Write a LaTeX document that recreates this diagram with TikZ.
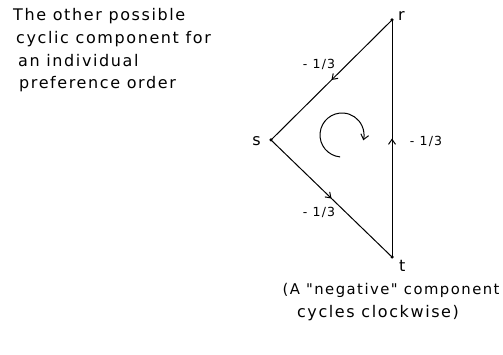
\documentclass[tikz,border=0pt]{standalone}
\usepackage{fontspec}
\setmainfont{DejaVu Sans}[LetterSpace=10]
\newfontfamily\capfont{DejaVu Sans}[LetterSpace=10]
\usetikzlibrary{arrows.meta,decorations.markings}
\begin{document}
\begin{tikzpicture}[x=1pt,y=1pt,
  txt/.style={inner sep=0pt,anchor=base west,font=\fontsize{16}{18}\selectfont},
  lbl/.style={inner sep=0pt,font=\fontsize{12.5}{14}\selectfont},
  vlbl/.style={inner sep=0pt,font=\fontsize{16}{18}\selectfont},
  vdot/.style={circle,fill=black,inner sep=0pt,minimum size=3.5pt},
  edge/.style={line width=1pt,postaction={decorate},
    decoration={markings,mark=at position 0.5 with {\arrow{Straight Barb[length=5pt,width=7pt]}}}}]
\useasboundingbox (0,0) rectangle (503,355);
% vertices
\node[vdot] (r) at (392,335) {};
\node[vdot] (s) at (271,215) {};
\node[vdot] (t) at (392,98) {};
\node[vlbl,anchor=west] (rl) at (398,339) {r};
\node[vlbl,anchor=east] (sl) at (261,214) {s};
\node[vlbl,anchor=west] (tl) at (399,89) {t};
% edges
\draw[edge] (r.center) -- (s.center);
\draw[edge] (s.center) -- (t.center);
\draw[edge] (t.center) -- (r.center);
% edge labels
\node[lbl] (l1) at (319,291) {- 1/3};
\node[lbl] (l2) at (426,214) {- 1/3};
\node[lbl] (l3) at (319,143) {- 1/3};
% clockwise arrow
\coordinate (c) at (342,220);
\draw[line width=1pt,-{Straight Barb[length=5pt,width=8pt]}] ([shift={(265:22)}]c) arc[start angle=265,end angle=-14,radius=22];
% caption top-left
\node[txt] (a1) at (13,334) {The other possible};
\node[txt] (a2) at (16,311) {cyclic component for};
\node[txt] (a3) at (18,288) {an individual};
\node[txt] (a4) at (19,266) {preference order};
% caption bottom
\node[txt,anchor=base,font=\capfont\fontsize{14.8}{18}\selectfont] (b1) at (391,60) {(A "negative" component};
\node[txt,anchor=base] (b2) at (378,37) {cycles clockwise)};
\end{tikzpicture}
\end{document}
